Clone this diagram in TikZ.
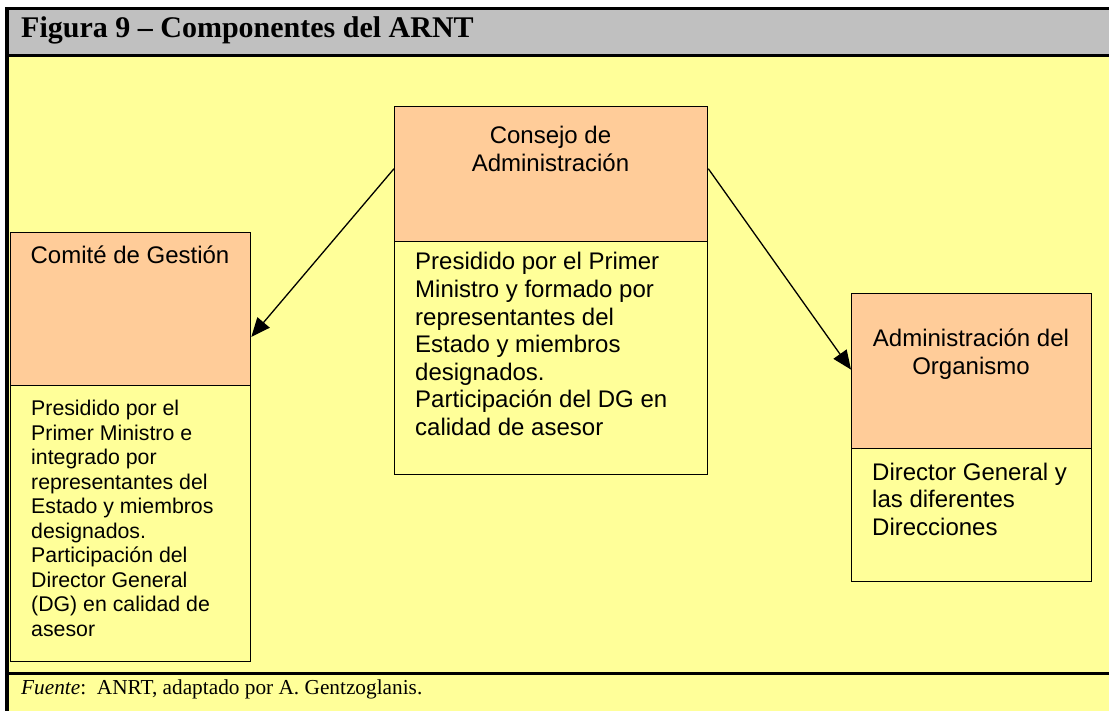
\documentclass[tikz,border=0pt]{standalone}
\usepackage{fontspec}
\setmainfont{Liberation Serif}
\setsansfont{Liberation Sans}
\usetikzlibrary{arrows.meta,calc}
\definecolor{bgyellow}{HTML}{FFFF99}
\definecolor{hdrorange}{HTML}{FFCC99}
\definecolor{hdrgray}{HTML}{C0C0C0}
\newcommand\myclines[1]{\vtop{\halign{\hfil##\hfil\cr#1\crcr}}}
\newcommand\myllines[1]{\vtop{\halign{##\hfil\cr#1\crcr}}}
\tikzset{
  partbox/.style={draw=black, line width=1.3pt, rectangle, inner sep=0pt, anchor=north west},
  headbox/.style={partbox, fill=hdrorange},
  bodybox/.style={partbox, fill=bgyellow},
  bigtext/.style={inner sep=0pt, font=\sffamily\fontsize{24}{27.6}\selectfont},
  smalltext/.style={inner sep=0pt, font=\sffamily\fontsize{21.3}{24.5}\selectfont},
  conn/.style={line width=1.3pt, -{Triangle[length=19pt,width=16pt]}}
}
\begin{document}
\begin{tikzpicture}[x=1pt,y=-1pt]
\useasboundingbox (0,0) rectangle (1109,711);
\fill[white] (0,0) rectangle (1109,711);
\fill[bgyellow] (5,7) rectangle (1109,711);
\fill[hdrgray] (9,10) rectangle (1109,54);
\fill[black] (5,7) rectangle (1109,10);
\fill[black] (5,54) rectangle (1109,57);
\fill[black] (5,7) rectangle (9,711);
\fill[black] (9,672) rectangle (1109,675);

\node[inner sep=0pt, anchor=base west, font=\bfseries\fontsize{30}{36}\selectfont] (title) at (21,38) {Figura 9 – Componentes del ARNT};
\node[inner sep=0pt, anchor=base west, font=\fontsize{21.3}{25}\selectfont] (source) at (21,694) {\textit{Fuente}:\ \ ANRT, adaptado por A. Gentzoglanis.};

% Comité de Gestión
\node[headbox, minimum width=240pt, minimum height=153pt] (cgh) at (10,232) {};
\node[bodybox, minimum width=240pt, minimum height=276pt] (cgb) at (10,385) {};
\node[bigtext, anchor=base] (cgt) at (130,264) {Comité de Gestión};
\node[smalltext, anchor=base west] (cgd) at (31,416) {\myllines{Presidido por el\cr Primer Ministro e\cr integrado por\cr representantes del\cr Estado y miembros\cr designados.\cr Participación del\cr Director General\cr (DG) en calidad de\cr asesor}};

% Consejo de Administración
\node[headbox, minimum width=313pt, minimum height=135pt] (cah) at (394,106) {};
\node[bodybox, minimum width=313pt, minimum height=233pt] (cab) at (394,241) {};
\node[bigtext, anchor=base] (cat) at (550.5,144) {\myclines{Consejo de\cr Administración}};
\node[bigtext, anchor=base west] (cad) at (415,270) {\myllines{Presidido por el Primer\cr Ministro y formado por\cr representantes del\cr Estado y miembros\cr designados.\cr Participación del DG en\cr calidad de asesor}};

% Administración del Organismo
\node[headbox, minimum width=240pt, minimum height=155pt] (aoh) at (851,293) {};
\node[bodybox, minimum width=240pt, minimum height=133pt] (aob) at (851,448) {};
\node[bigtext, anchor=base] (aot) at (971,347) {\myclines{Administración del\cr Organismo}};
\node[bigtext, anchor=base west] (aod) at (872,480) {\myllines{Director General y\cr las diferentes\cr Direcciones}};

% connectors
\draw[conn] ($(cah.north west)!0.46!(cah.south west)$) -- ($(cgh.north east)!0.68!(cgh.south east)$);
\draw[conn] ($(cah.north east)!0.46!(cah.south east)$) -- ($(aoh.north west)!0.49!(aoh.south west)$);
\end{tikzpicture}
\end{document}
